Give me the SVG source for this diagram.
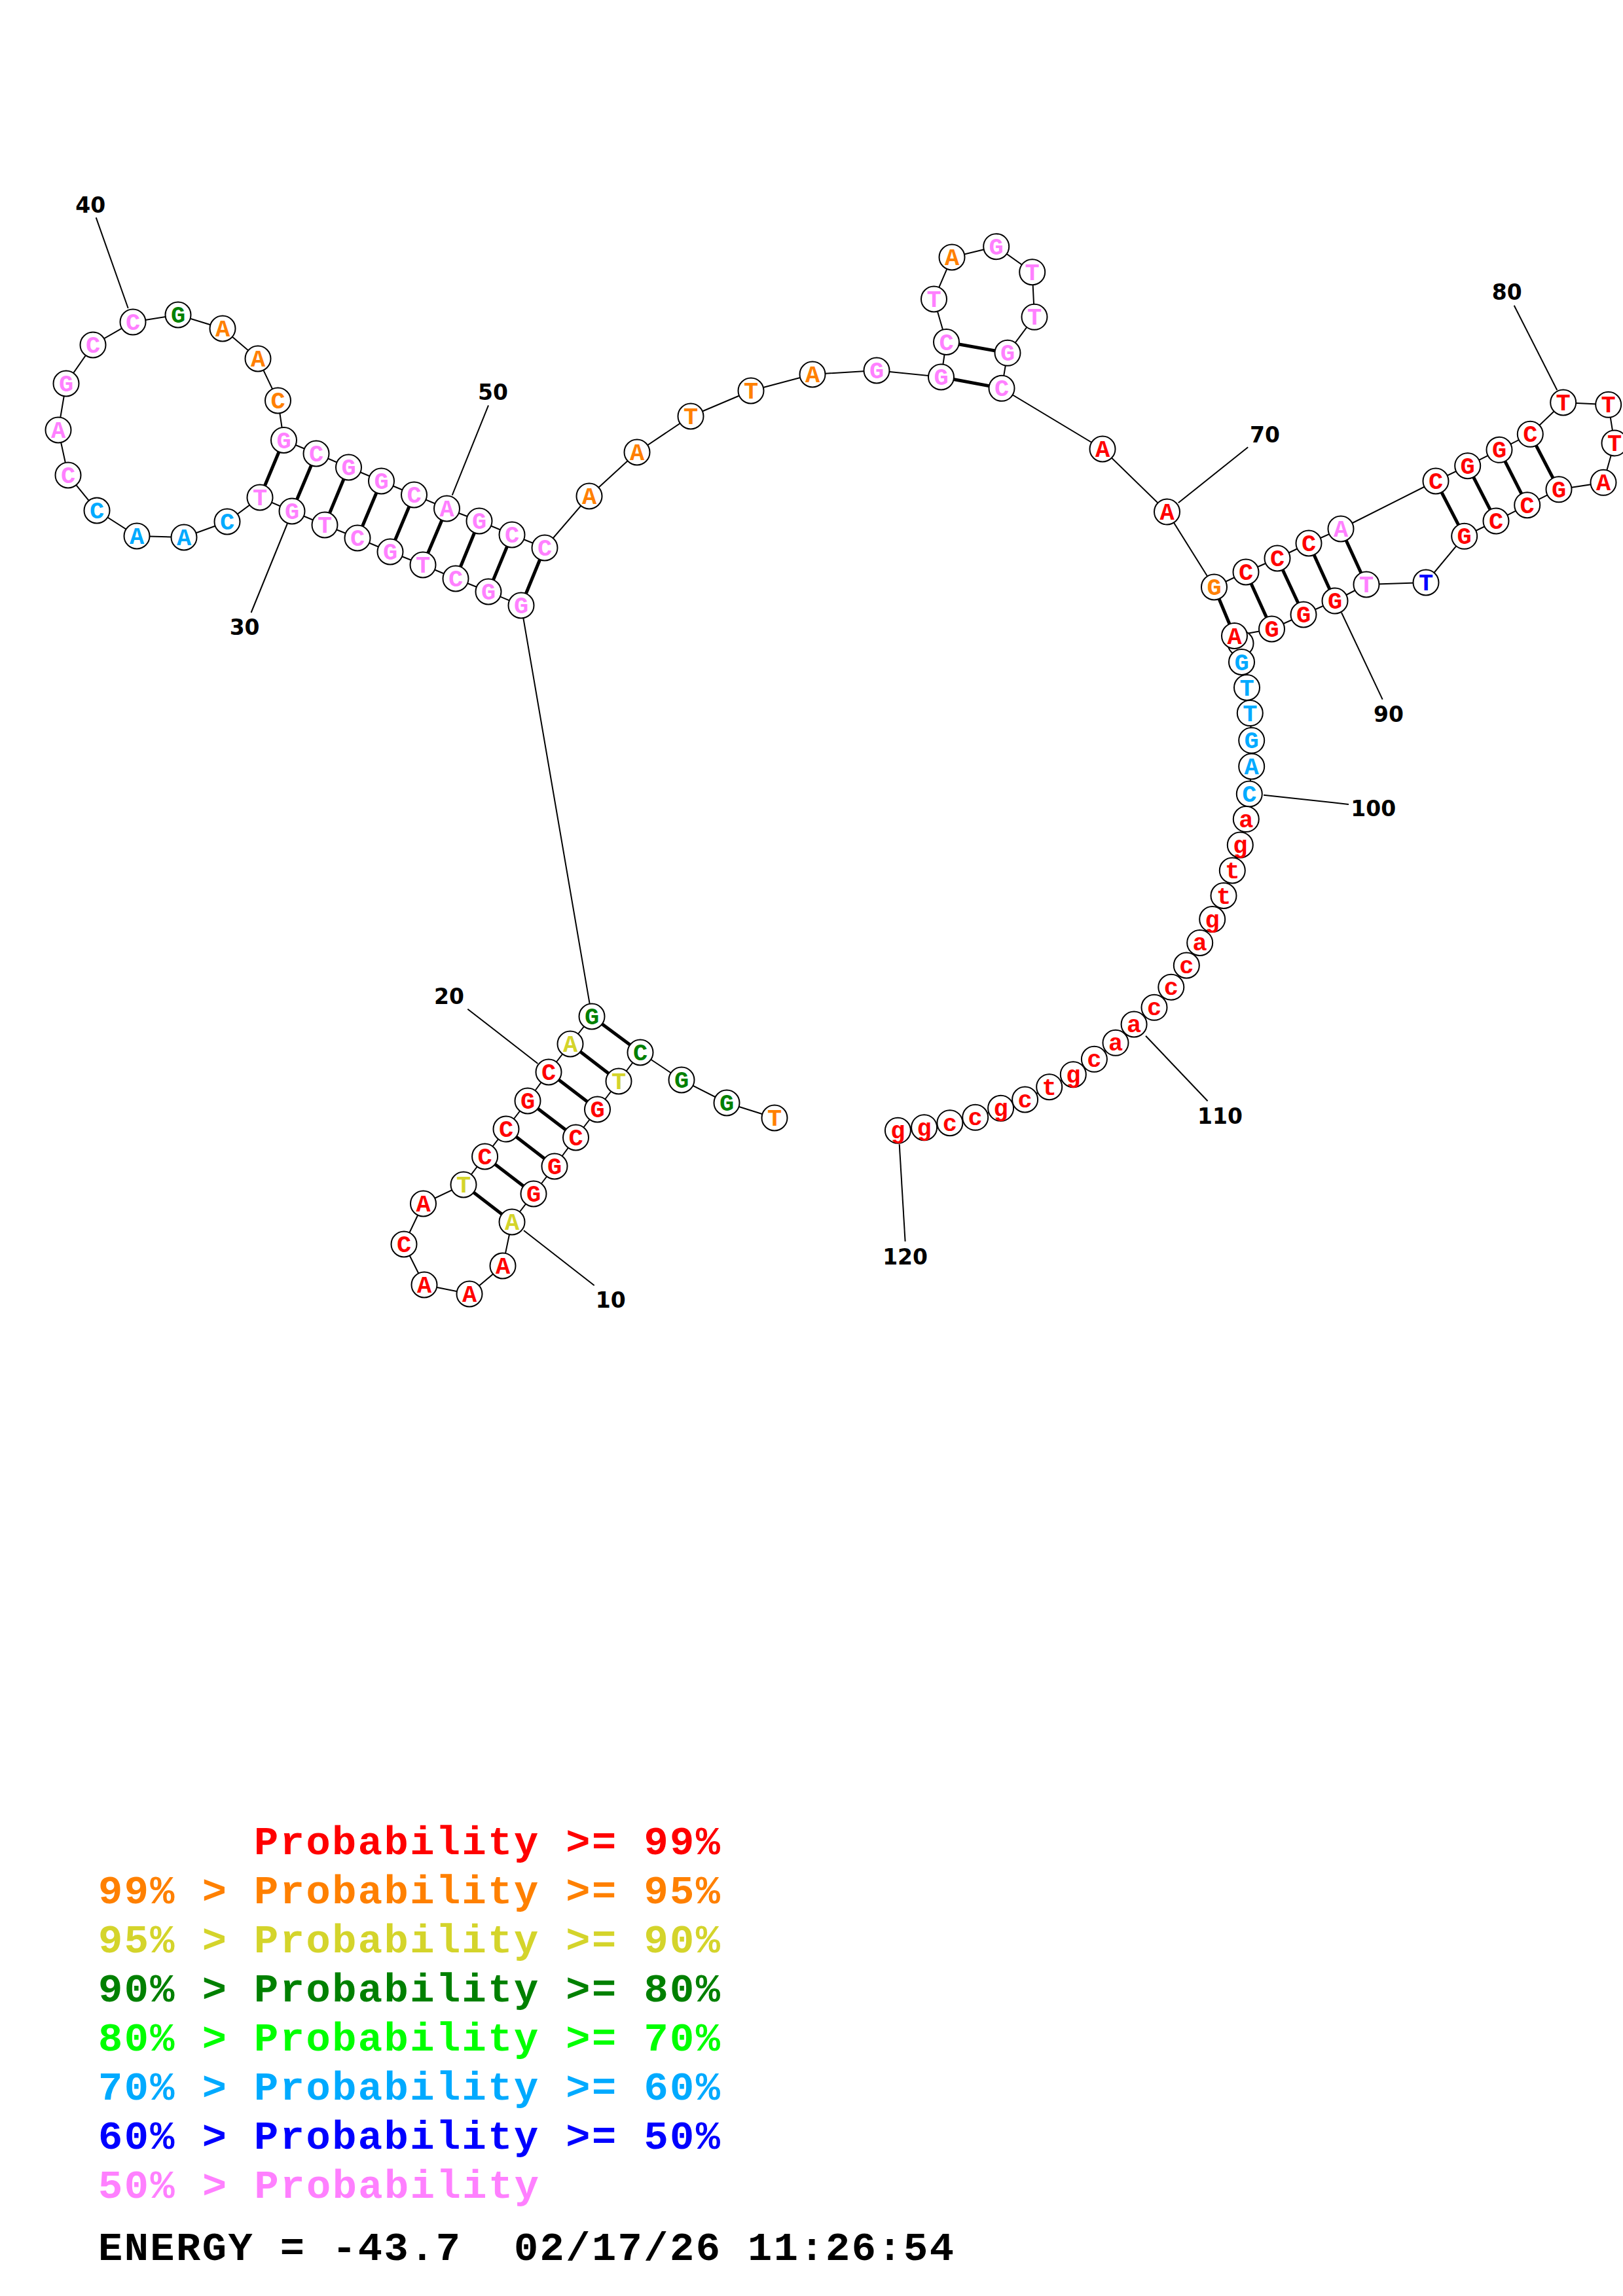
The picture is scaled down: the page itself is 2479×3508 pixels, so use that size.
<svg xmlns="http://www.w3.org/2000/svg" width="2479" height="3508" viewBox="0 0 2479 3508">
<style>
.bg{fill:#fff}
.bb{fill:none;stroke:#000;stroke-width:2}
.pr{stroke:#000;stroke-width:5}
.tk{stroke:#000;stroke-width:2}
.num{font-family:"DejaVu Sans",sans-serif;font-weight:bold;font-size:33px;text-anchor:middle;fill:#000}
.n circle{fill:#fff;stroke:#000;stroke-width:2}
.n text{font-family:"Liberation Mono",monospace;font-weight:bold;font-size:37px;text-anchor:middle}
.r{fill:#ff0000}.o{fill:#ff8000}.y{fill:#d4d42b}.dg{fill:#008000}.lg{fill:#00ff00}.b{fill:#00aaff}.bl{fill:#0000ff}.p{fill:#ff80ff}.k{fill:#000}
.lgd{font-family:"Liberation Mono",monospace;font-weight:bold;font-size:62px}
</style>
<rect class="bg" x="0" y="0" width="2479" height="3508"/>
<g id="connectors">
<polyline class="bb" points="1183,1708 1110,1685 1041,1650 978,1608 945,1652 912.5,1695 879.5,1738 847,1782 815,1824 782,1867 768,1934 717,1977 648,1963 617,1901 646.5,1839 708,1810 740.6,1767 773,1725 806,1682 838,1638 871,1595 904,1553 796,925 746,904 696,884 646,863 596,843 546,822 496,802 446,781 397,760 347,797 281,821 209,819 148,780 104,726 89,657 101,586 142,527 203,492 272,481 340,502 394,548 424.5,612 433.5,672.5 483,693 532.5,714 582.5,735 632.5,756 682.5,777 732,796 782,817 832,837 900,758 973,691 1055,636 1147,597 1241,572 1339,566 1437.5,576 1445.5,522.5 1426.5,457 1454,393 1521.7,376.7 1576.7,415.7 1580,484.3 1539,539.3 1530,593.3 1684,686 1782.5,782 1854.5,897 1903,874 1951,853 1999,830 2048,808 2193,735 2241.7,711.7 2290,687.3 2337.3,663.3 2387.7,615 2456.7,618.3 2466,677 2449,737.3 2381,747.7 2332.7,771.7 2285,796 2236.7,819.3 2178,890 2087,893 2039,918 1991,939 1942.5,961 1885.5,971.5 1895,983 1896.5,1011.5 1904.5,1050.5 1909.3,1089.6 1911.7,1131.3 1911.7,1171 1908.3,1213 1903.3,1251.6 1894.3,1291 1882.3,1330 1869,1368.5 1851.7,1404.6 1832.7,1440.4 1812.3,1475 1788.8,1508.3 1763,1539.3 1732.1,1565 1704,1593.3 1671.4,1618.3 1639.3,1641.7 1602.7,1660.7 1565.6,1680 1528.6,1693.3 1489.7,1707.3 1450.9,1715.7 1411.6,1722.7 1371.4,1727.3"/>
<line class="pr" x1="904" y1="1553" x2="978" y2="1608"/>
<line class="pr" x1="871" y1="1595" x2="945" y2="1652"/>
<line class="pr" x1="838" y1="1638" x2="912.5" y2="1695"/>
<line class="pr" x1="806" y1="1682" x2="879.5" y2="1738"/>
<line class="pr" x1="773" y1="1725" x2="847" y2="1782"/>
<line class="pr" x1="740.6" y1="1767" x2="815" y2="1824"/>
<line class="pr" x1="708" y1="1810" x2="782" y2="1867"/>
<line class="pr" x1="796" y1="925" x2="832" y2="837"/>
<line class="pr" x1="746" y1="904" x2="782" y2="817"/>
<line class="pr" x1="696" y1="884" x2="732" y2="796"/>
<line class="pr" x1="646" y1="863" x2="682.5" y2="777"/>
<line class="pr" x1="596" y1="843" x2="632.5" y2="756"/>
<line class="pr" x1="546" y1="822" x2="582.5" y2="735"/>
<line class="pr" x1="496" y1="802" x2="532.5" y2="714"/>
<line class="pr" x1="446" y1="781" x2="483" y2="693"/>
<line class="pr" x1="397" y1="760" x2="433.5" y2="672.5"/>
<line class="pr" x1="1437.5" y1="576" x2="1530" y2="593.3"/>
<line class="pr" x1="1445.5" y1="522.5" x2="1539" y2="539.3"/>
<line class="pr" x1="1854.5" y1="897" x2="1885.5" y2="971.5"/>
<line class="pr" x1="1903" y1="874" x2="1942.5" y2="961"/>
<line class="pr" x1="1951" y1="853" x2="1991" y2="939"/>
<line class="pr" x1="1999" y1="830" x2="2039" y2="918"/>
<line class="pr" x1="2048" y1="808" x2="2087" y2="893"/>
<line class="pr" x1="2193" y1="735" x2="2236.7" y2="819.3"/>
<line class="pr" x1="2241.7" y1="711.7" x2="2285" y2="796"/>
<line class="pr" x1="2290" y1="687.3" x2="2332.7" y2="771.7"/>
<line class="pr" x1="2337.3" y1="663.3" x2="2381" y2="747.7"/>
<line class="tk" x1="800" y1="1880" x2="907.7" y2="1964"/>
<line class="tk" x1="714.3" y1="1541.7" x2="821.4" y2="1625"/>
<line class="tk" x1="438.9" y1="800" x2="383.6" y2="936"/>
<line class="tk" x1="146.7" y1="332.3" x2="195.7" y2="471"/>
<line class="tk" x1="746" y1="619.3" x2="690.7" y2="756.7"/>
<line class="tk" x1="1906.2" y1="683.3" x2="1799.8" y2="768.3"/>
<line class="tk" x1="2312.7" y1="466.7" x2="2378.3" y2="596"/>
<line class="tk" x1="2049" y1="936" x2="2111.7" y2="1068.6"/>
<line class="tk" x1="1930" y1="1214.8" x2="2060" y2="1228.9"/>
<line class="tk" x1="1750" y1="1582.7" x2="1844.6" y2="1682.3"/>
<line class="tk" x1="1373.7" y1="1748.3" x2="1382.6" y2="1896.7"/>
</g>
<g id="labels">
<text class="num" x="932.7" y="1998">10</text>
<text class="num" x="686" y="1534">20</text>
<text class="num" x="373.6" y="970">30</text>
<text class="num" x="138.3" y="325">40</text>
<text class="num" x="753" y="611">50</text>
<text class="num" x="1932" y="676">70</text>
<text class="num" x="2301.7" y="458">80</text>
<text class="num" x="2121" y="1103">90</text>
<text class="num" x="2097.7" y="1247">100</text>
<text class="num" x="1863.4" y="1716.7">110</text>
<text class="num" x="1382.6" y="1931.7">120</text>
</g>
<g id="n94" class="n" transform="translate(1895,983)"><circle r="19.5"/></g>
<g id="n1" class="n" transform="translate(1183,1708)"><circle r="19.5"/><text y="12" class="o">T</text></g>
<g id="n2" class="n" transform="translate(1110,1685)"><circle r="19.5"/><text y="12" class="dg">G</text></g>
<g id="n3" class="n" transform="translate(1041,1650)"><circle r="19.5"/><text y="12" class="dg">G</text></g>
<g id="n4" class="n" transform="translate(978,1608)"><circle r="19.5"/><text y="12" class="dg">C</text></g>
<g id="n5" class="n" transform="translate(945,1652)"><circle r="19.5"/><text y="12" class="y">T</text></g>
<g id="n6" class="n" transform="translate(912.5,1695)"><circle r="19.5"/><text y="12" class="r">G</text></g>
<g id="n7" class="n" transform="translate(879.5,1738)"><circle r="19.5"/><text y="12" class="r">C</text></g>
<g id="n8" class="n" transform="translate(847,1782)"><circle r="19.5"/><text y="12" class="r">G</text></g>
<g id="n9" class="n" transform="translate(815,1824)"><circle r="19.5"/><text y="12" class="r">G</text></g>
<g id="n10" class="n" transform="translate(782,1867)"><circle r="19.5"/><text y="12" class="y">A</text></g>
<g id="n11" class="n" transform="translate(768,1934)"><circle r="19.5"/><text y="12" class="r">A</text></g>
<g id="n12" class="n" transform="translate(717,1977)"><circle r="19.5"/><text y="12" class="r">A</text></g>
<g id="n13" class="n" transform="translate(648,1963)"><circle r="19.5"/><text y="12" class="r">A</text></g>
<g id="n14" class="n" transform="translate(617,1901)"><circle r="19.5"/><text y="12" class="r">C</text></g>
<g id="n15" class="n" transform="translate(646.5,1839)"><circle r="19.5"/><text y="12" class="r">A</text></g>
<g id="n16" class="n" transform="translate(708,1810)"><circle r="19.5"/><text y="12" class="y">T</text></g>
<g id="n17" class="n" transform="translate(740.6,1767)"><circle r="19.5"/><text y="12" class="r">C</text></g>
<g id="n18" class="n" transform="translate(773,1725)"><circle r="19.5"/><text y="12" class="r">C</text></g>
<g id="n19" class="n" transform="translate(806,1682)"><circle r="19.5"/><text y="12" class="r">G</text></g>
<g id="n20" class="n" transform="translate(838,1638)"><circle r="19.5"/><text y="12" class="r">C</text></g>
<g id="n21" class="n" transform="translate(871,1595)"><circle r="19.5"/><text y="12" class="y">A</text></g>
<g id="n22" class="n" transform="translate(904,1553)"><circle r="19.5"/><text y="12" class="dg">G</text></g>
<g id="n23" class="n" transform="translate(796,925)"><circle r="19.5"/><text y="12" class="p">G</text></g>
<g id="n24" class="n" transform="translate(746,904)"><circle r="19.5"/><text y="12" class="p">G</text></g>
<g id="n25" class="n" transform="translate(696,884)"><circle r="19.5"/><text y="12" class="p">C</text></g>
<g id="n26" class="n" transform="translate(646,863)"><circle r="19.5"/><text y="12" class="p">T</text></g>
<g id="n27" class="n" transform="translate(596,843)"><circle r="19.5"/><text y="12" class="p">G</text></g>
<g id="n28" class="n" transform="translate(546,822)"><circle r="19.5"/><text y="12" class="p">C</text></g>
<g id="n29" class="n" transform="translate(496,802)"><circle r="19.5"/><text y="12" class="p">T</text></g>
<g id="n30" class="n" transform="translate(446,781)"><circle r="19.5"/><text y="12" class="p">G</text></g>
<g id="n31" class="n" transform="translate(397,760)"><circle r="19.5"/><text y="12" class="p">T</text></g>
<g id="n32" class="n" transform="translate(347,797)"><circle r="19.5"/><text y="12" class="b">C</text></g>
<g id="n33" class="n" transform="translate(281,821)"><circle r="19.5"/><text y="12" class="b">A</text></g>
<g id="n34" class="n" transform="translate(209,819)"><circle r="19.5"/><text y="12" class="b">A</text></g>
<g id="n35" class="n" transform="translate(148,780)"><circle r="19.5"/><text y="12" class="b">C</text></g>
<g id="n36" class="n" transform="translate(104,726)"><circle r="19.5"/><text y="12" class="p">C</text></g>
<g id="n37" class="n" transform="translate(89,657)"><circle r="19.5"/><text y="12" class="p">A</text></g>
<g id="n38" class="n" transform="translate(101,586)"><circle r="19.5"/><text y="12" class="p">G</text></g>
<g id="n39" class="n" transform="translate(142,527)"><circle r="19.5"/><text y="12" class="p">C</text></g>
<g id="n40" class="n" transform="translate(203,492)"><circle r="19.5"/><text y="12" class="p">C</text></g>
<g id="n41" class="n" transform="translate(272,481)"><circle r="19.5"/><text y="12" class="dg">G</text></g>
<g id="n42" class="n" transform="translate(340,502)"><circle r="19.5"/><text y="12" class="o">A</text></g>
<g id="n43" class="n" transform="translate(394,548)"><circle r="19.5"/><text y="12" class="o">A</text></g>
<g id="n44" class="n" transform="translate(424.5,612)"><circle r="19.5"/><text y="12" class="o">C</text></g>
<g id="n45" class="n" transform="translate(433.5,672.5)"><circle r="19.5"/><text y="12" class="p">G</text></g>
<g id="n46" class="n" transform="translate(483,693)"><circle r="19.5"/><text y="12" class="p">C</text></g>
<g id="n47" class="n" transform="translate(532.5,714)"><circle r="19.5"/><text y="12" class="p">G</text></g>
<g id="n48" class="n" transform="translate(582.5,735)"><circle r="19.5"/><text y="12" class="p">G</text></g>
<g id="n49" class="n" transform="translate(632.5,756)"><circle r="19.5"/><text y="12" class="p">C</text></g>
<g id="n50" class="n" transform="translate(682.5,777)"><circle r="19.5"/><text y="12" class="p">A</text></g>
<g id="n51" class="n" transform="translate(732,796)"><circle r="19.5"/><text y="12" class="p">G</text></g>
<g id="n52" class="n" transform="translate(782,817)"><circle r="19.5"/><text y="12" class="p">C</text></g>
<g id="n53" class="n" transform="translate(832,837)"><circle r="19.5"/><text y="12" class="p">C</text></g>
<g id="n54" class="n" transform="translate(900,758)"><circle r="19.5"/><text y="12" class="o">A</text></g>
<g id="n55" class="n" transform="translate(973,691)"><circle r="19.5"/><text y="12" class="o">A</text></g>
<g id="n56" class="n" transform="translate(1055,636)"><circle r="19.5"/><text y="12" class="o">T</text></g>
<g id="n57" class="n" transform="translate(1147,597)"><circle r="19.5"/><text y="12" class="o">T</text></g>
<g id="n58" class="n" transform="translate(1241,572)"><circle r="19.5"/><text y="12" class="o">A</text></g>
<g id="n59" class="n" transform="translate(1339,566)"><circle r="19.5"/><text y="12" class="p">G</text></g>
<g id="n60" class="n" transform="translate(1437.5,576)"><circle r="19.5"/><text y="12" class="p">G</text></g>
<g id="n61" class="n" transform="translate(1445.5,522.5)"><circle r="19.5"/><text y="12" class="p">C</text></g>
<g id="n62" class="n" transform="translate(1426.5,457)"><circle r="19.5"/><text y="12" class="p">T</text></g>
<g id="n63" class="n" transform="translate(1454,393)"><circle r="19.5"/><text y="12" class="o">A</text></g>
<g id="n64" class="n" transform="translate(1521.7,376.7)"><circle r="19.5"/><text y="12" class="p">G</text></g>
<g id="n65" class="n" transform="translate(1576.7,415.7)"><circle r="19.5"/><text y="12" class="p">T</text></g>
<g id="n66" class="n" transform="translate(1580,484.3)"><circle r="19.5"/><text y="12" class="p">T</text></g>
<g id="n67" class="n" transform="translate(1539,539.3)"><circle r="19.5"/><text y="12" class="p">G</text></g>
<g id="n68" class="n" transform="translate(1530,593.3)"><circle r="19.5"/><text y="12" class="p">C</text></g>
<g id="n69" class="n" transform="translate(1684,686)"><circle r="19.5"/><text y="12" class="r">A</text></g>
<g id="n70" class="n" transform="translate(1782.5,782)"><circle r="19.5"/><text y="12" class="r">A</text></g>
<g id="n71" class="n" transform="translate(1854.5,897)"><circle r="19.5"/><text y="12" class="o">G</text></g>
<g id="n72" class="n" transform="translate(1903,874)"><circle r="19.5"/><text y="12" class="r">C</text></g>
<g id="n73" class="n" transform="translate(1951,853)"><circle r="19.5"/><text y="12" class="r">C</text></g>
<g id="n74" class="n" transform="translate(1999,830)"><circle r="19.5"/><text y="12" class="r">C</text></g>
<g id="n75" class="n" transform="translate(2048,808)"><circle r="19.5"/><text y="12" class="p">A</text></g>
<g id="n76" class="n" transform="translate(2193,735)"><circle r="19.5"/><text y="12" class="r">C</text></g>
<g id="n77" class="n" transform="translate(2241.7,711.7)"><circle r="19.5"/><text y="12" class="r">G</text></g>
<g id="n78" class="n" transform="translate(2290,687.3)"><circle r="19.5"/><text y="12" class="r">G</text></g>
<g id="n79" class="n" transform="translate(2337.3,663.3)"><circle r="19.5"/><text y="12" class="r">C</text></g>
<g id="n80" class="n" transform="translate(2387.7,615)"><circle r="19.5"/><text y="12" class="r">T</text></g>
<g id="n81" class="n" transform="translate(2456.7,618.3)"><circle r="19.5"/><text y="12" class="r">T</text></g>
<g id="n82" class="n" transform="translate(2466,677)"><circle r="19.5"/><text y="12" class="r">T</text></g>
<g id="n83" class="n" transform="translate(2449,737.3)"><circle r="19.5"/><text y="12" class="r">A</text></g>
<g id="n84" class="n" transform="translate(2381,747.7)"><circle r="19.5"/><text y="12" class="r">G</text></g>
<g id="n85" class="n" transform="translate(2332.7,771.7)"><circle r="19.5"/><text y="12" class="r">C</text></g>
<g id="n86" class="n" transform="translate(2285,796)"><circle r="19.5"/><text y="12" class="r">C</text></g>
<g id="n87" class="n" transform="translate(2236.7,819.3)"><circle r="19.5"/><text y="12" class="r">G</text></g>
<g id="n88" class="n" transform="translate(2178,890)"><circle r="19.5"/><text y="12" class="bl">T</text></g>
<g id="n89" class="n" transform="translate(2087,893)"><circle r="19.5"/><text y="12" class="p">T</text></g>
<g id="n90" class="n" transform="translate(2039,918)"><circle r="19.5"/><text y="12" class="r">G</text></g>
<g id="n91" class="n" transform="translate(1991,939)"><circle r="19.5"/><text y="12" class="r">G</text></g>
<g id="n92" class="n" transform="translate(1942.5,961)"><circle r="19.5"/><text y="12" class="r">G</text></g>
<g id="n95" class="n" transform="translate(1896.5,1011.5)"><circle r="19.5"/><text y="12" class="b">G</text></g>
<g id="n93" class="n" transform="translate(1885.5,971.5)"><circle r="19.5"/><text y="12" class="r">A</text></g>
<g id="n96" class="n" transform="translate(1904.5,1050.5)"><circle r="19.5"/><text y="12" class="b">T</text></g>
<g id="n97" class="n" transform="translate(1909.3,1089.6)"><circle r="19.5"/><text y="12" class="b">T</text></g>
<g id="n98" class="n" transform="translate(1911.7,1131.3)"><circle r="19.5"/><text y="12" class="b">G</text></g>
<g id="n99" class="n" transform="translate(1911.7,1171)"><circle r="19.5"/><text y="12" class="b">A</text></g>
<g id="n100" class="n" transform="translate(1908.3,1213)"><circle r="19.5"/><text y="12" class="b">C</text></g>
<g id="n101" class="n" transform="translate(1903.3,1251.6)"><circle r="19.5"/><text y="12" class="r">a</text></g>
<g id="n102" class="n" transform="translate(1894.3,1291)"><circle r="19.5"/><text y="12" class="r">g</text></g>
<g id="n103" class="n" transform="translate(1882.3,1330)"><circle r="19.5"/><text y="12" class="r">t</text></g>
<g id="n104" class="n" transform="translate(1869,1368.5)"><circle r="19.5"/><text y="12" class="r">t</text></g>
<g id="n105" class="n" transform="translate(1851.7,1404.6)"><circle r="19.5"/><text y="12" class="r">g</text></g>
<g id="n106" class="n" transform="translate(1832.7,1440.4)"><circle r="19.5"/><text y="12" class="r">a</text></g>
<g id="n107" class="n" transform="translate(1812.3,1475)"><circle r="19.5"/><text y="12" class="r">c</text></g>
<g id="n108" class="n" transform="translate(1788.8,1508.3)"><circle r="19.5"/><text y="12" class="r">c</text></g>
<g id="n109" class="n" transform="translate(1763,1539.3)"><circle r="19.5"/><text y="12" class="r">c</text></g>
<g id="n110" class="n" transform="translate(1732.1,1565)"><circle r="19.5"/><text y="12" class="r">a</text></g>
<g id="n111" class="n" transform="translate(1704,1593.3)"><circle r="19.5"/><text y="12" class="r">a</text></g>
<g id="n112" class="n" transform="translate(1671.4,1618.3)"><circle r="19.5"/><text y="12" class="r">c</text></g>
<g id="n113" class="n" transform="translate(1639.3,1641.7)"><circle r="19.5"/><text y="12" class="r">g</text></g>
<g id="n114" class="n" transform="translate(1602.7,1660.7)"><circle r="19.5"/><text y="12" class="r">t</text></g>
<g id="n115" class="n" transform="translate(1565.6,1680)"><circle r="19.5"/><text y="12" class="r">c</text></g>
<g id="n116" class="n" transform="translate(1528.6,1693.3)"><circle r="19.5"/><text y="12" class="r">g</text></g>
<g id="n117" class="n" transform="translate(1489.7,1707.3)"><circle r="19.5"/><text y="12" class="r">c</text></g>
<g id="n118" class="n" transform="translate(1450.9,1715.7)"><circle r="19.5"/><text y="12" class="r">c</text></g>
<g id="n119" class="n" transform="translate(1411.6,1722.7)"><circle r="19.5"/><text y="12" class="r">g</text></g>
<g id="n120" class="n" transform="translate(1371.4,1727.3)"><circle r="19.5"/><text y="12" class="r">g</text></g>
<g id="legend" class="lgd">
<text x="388" y="2833" class="r" textLength="712" lengthAdjust="spacing">Probability &gt;= 99%</text>
<text x="150" y="2908" class="o" textLength="950" lengthAdjust="spacing">99% &gt; Probability &gt;= 95%</text>
<text x="150" y="2983" class="y" textLength="950" lengthAdjust="spacing">95% &gt; Probability &gt;= 90%</text>
<text x="150" y="3058" class="dg" textLength="950" lengthAdjust="spacing">90% &gt; Probability &gt;= 80%</text>
<text x="150" y="3133" class="lg" textLength="950" lengthAdjust="spacing">80% &gt; Probability &gt;= 70%</text>
<text x="150" y="3208" class="b" textLength="950" lengthAdjust="spacing">70% &gt; Probability &gt;= 60%</text>
<text x="150" y="3283" class="bl" textLength="950" lengthAdjust="spacing">60% &gt; Probability &gt;= 50%</text>
<text x="150" y="3358" class="p" textLength="673" lengthAdjust="spacing">50% &gt; Probability</text>
<text x="150" y="3453" class="k" textLength="1307" lengthAdjust="spacing" xml:space="preserve">ENERGY = -43.7  02/17/26 11:26:54</text>
</g>
</svg>
